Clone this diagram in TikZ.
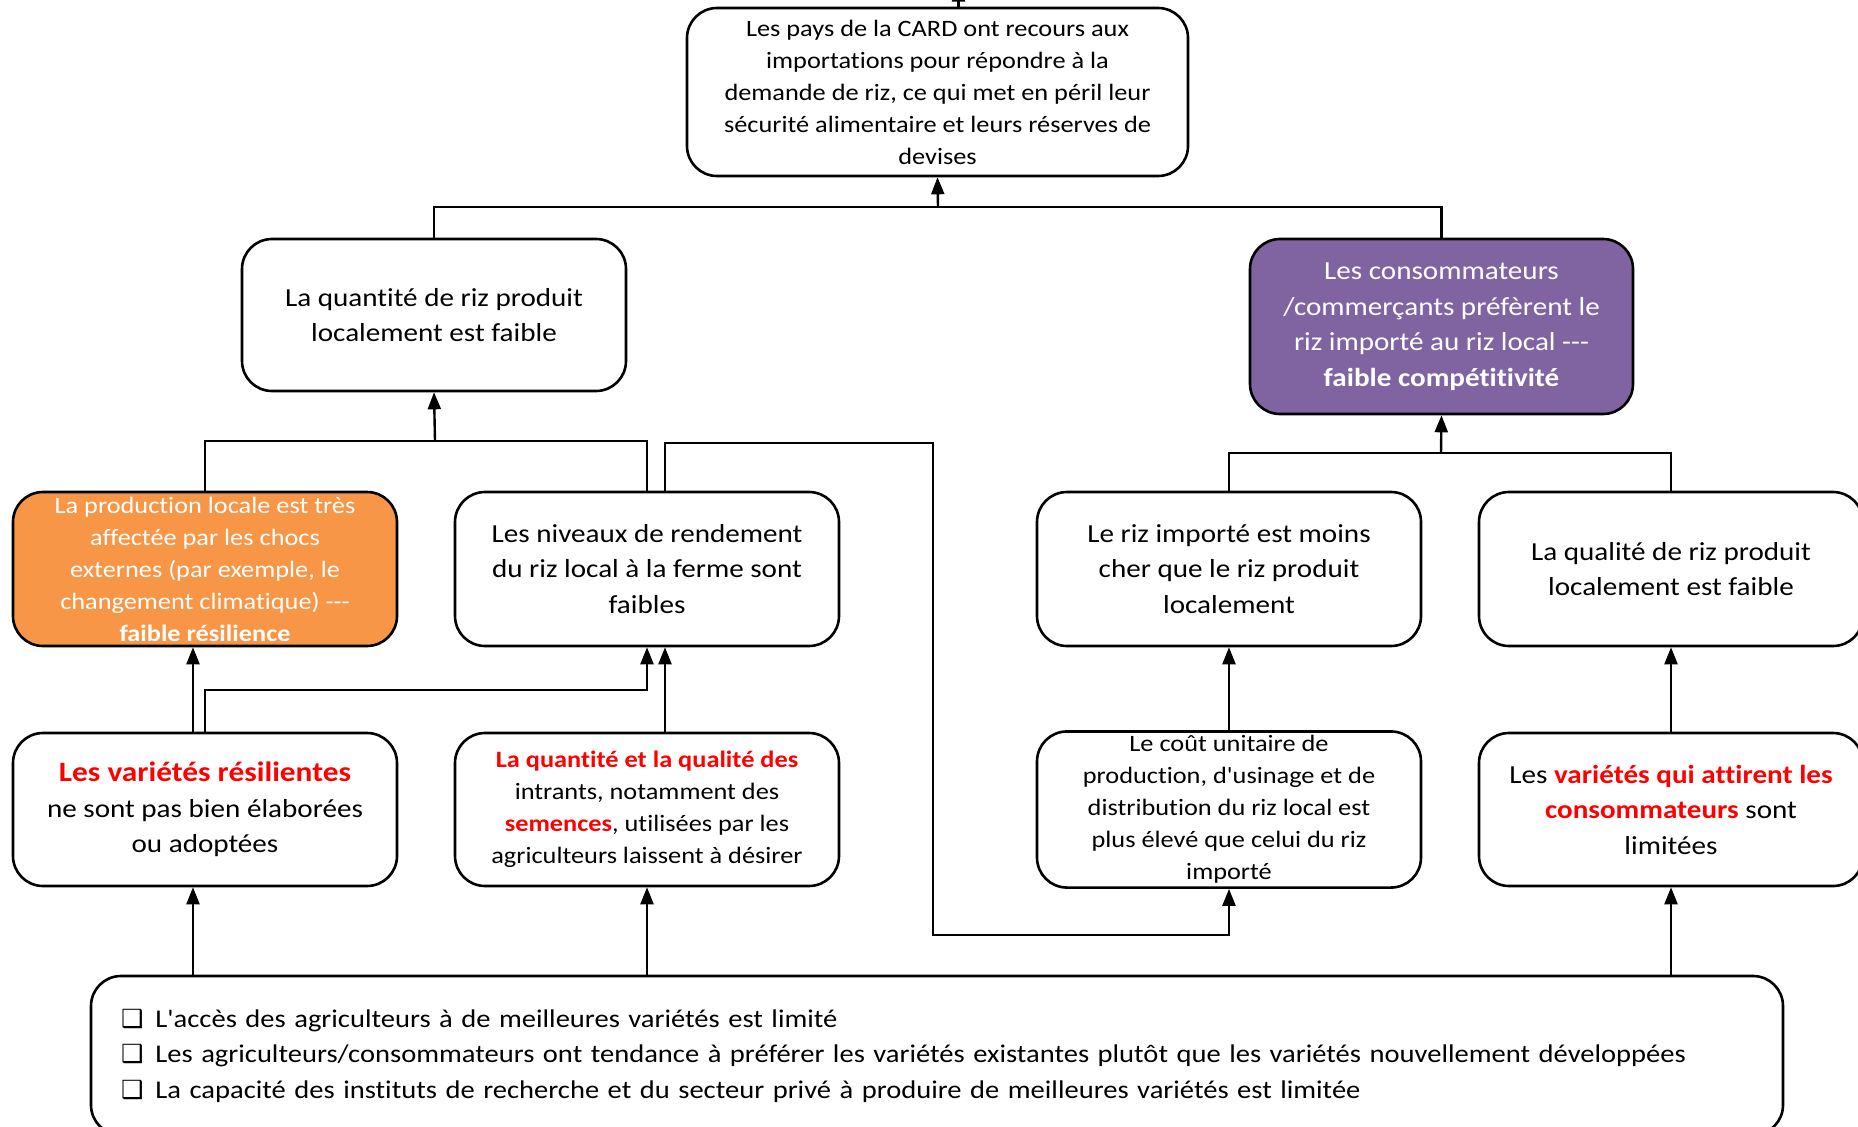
\documentclass[tikz,border=0pt]{standalone}
\usepackage{fontspec}
\setmainfont{Carlito}[Ligatures={TeXOff,CommonOff}, FakeStretch=1.12]
\newfontfamily\djv{DejaVu Sans}
\usetikzlibrary{arrows.meta}
\definecolor{orangebox}{HTML}{F79646}
\definecolor{purplebox}{HTML}{8064A2}
\definecolor{redtxt}{HTML}{FF0000}
\newcommand{\fsa}{\fontsize{23.5}{32}\selectfont}
\newcommand{\fsb}{\fontsize{26}{35.5}\selectfont}
\newcommand{\rd}[1]{\textcolor{redtxt}{\textbf{#1}}}
\newcommand{\chk}{{\djv\fontsize{25}{25}\selectfont ❑}\hspace{12pt}}
\tikzset{
  box/.style={draw=black, line width=2.6pt, rounded corners=30pt, fill=white, align=center, inner sep=4pt},
  conn/.style={draw=black, line width=2.4pt},
  arr/.style={conn, -{Triangle[length=17pt,width=13pt]}}
}
\begin{document}
\begin{tikzpicture}[x=1pt,y=-1pt]
\useasboundingbox (0,0) rectangle (1858,1127);
% nodes
\node[box, minimum width=501pt, minimum height=168pt, font=\fsa] (top) at (937.5,92) {Les pays de la CARD ont recours aux\\importations pour répondre à la\\demande de riz, ce qui met en péril leur\\sécurité alimentaire et leurs réserves de\\devises};
\node[box, minimum width=384pt, minimum height=152pt, font=\fsb] (qty) at (434,315) {La quantité de riz produit\\localement est faible};
\node[box, fill=purplebox, text=white, minimum width=383pt, minimum height=175pt, font=\fsb] (pref) at (1441.5,326.5) {Les consommateurs\\/commerçants préfèrent le\\riz importé au riz local -{}-{}-\\\textbf{faible compétitivité}};
\node[box, fill=orangebox, text=white, minimum width=384pt, minimum height=154pt, font=\fsa] (shock) at (205,569) {La production locale est très\\affectée par les chocs\\externes (par exemple, le\\changement climatique) -{}-{}-\\\textbf{faible résilience}};
\node[box, minimum width=384pt, minimum height=154pt, font=\fsb] (rend) at (647,569) {Les niveaux de rendement\\du riz local à la ferme sont\\faibles};
\node[box, minimum width=384pt, minimum height=154pt, font=\fsb] (cheap) at (1229,569) {Le riz importé est moins\\cher que le riz produit\\localement};
\node[box, minimum width=384pt, minimum height=154pt, font=\fsb] (qual) at (1671,569) {La qualité de riz produit\\localement est faible};
\node[box, minimum width=384pt, minimum height=153pt, font=\fsb] (resil) at (205,809.5) {{\fontsize{28}{35.5}\selectfont\rd{Les variétés résilientes}}\\ne sont pas bien élaborées\\ou adoptées};
\node[box, minimum width=384pt, minimum height=153pt, font=\fsa] (inputs) at (647,809.5) {\rd{La quantité et la qualité des}\\intrants, notamment des\\\rd{semences}, utilisées par les\\agriculteurs laissent à désirer};
\node[box, minimum width=384pt, minimum height=153pt, font=\fsa] (cost) at (1229,809.5) {Le coût unitaire de\\production, d'usinage et de\\distribution du riz local est\\plus élevé que celui du riz\\importé};
\node[box, minimum width=384pt, minimum height=153pt, font=\fsb] (attract) at (1671,809.5) {Les \rd{variétés qui attirent les}\\\rd{consommateurs} sont\\limitées};
\node[box, minimum width=1692pt, minimum height=159pt, font=\fontsize{25.5}{35.5}\selectfont, align=left, text width=1632pt, inner xsep=30pt] (root) at (937,1055.5) {\chk L'accès des agriculteurs à de meilleures variétés est limité\\\chk Les agriculteurs/consommateurs ont tendance à préférer les variétés existantes plutôt que les variétés nouvellement développées\\\chk La capacité des instituts de recherche et du secteur privé à produire de meilleures variétés est limitée};
% junction coordinates
\coordinate (j1) at (938,207);
\coordinate (j2) at (435,441);
\coordinate (j3) at (1441,453);
\coordinate (c1) at (933,443);
\coordinate (c2) at (933,935);
\coordinate (c3) at (647,690);
% connectors
\draw[arr] ([xshift=21pt]top.north) -- ++(0,-22);
\draw[conn] (qty.north) |- (j1) -| (pref.north);
\draw[arr] (j1) -- (top.south);
\draw[conn] (shock.north) |- (j2) -| (rend.north);
\draw[arr] (j2) -- (qty.south);
\draw[arr] ([xshift=18pt]rend.north) |- (c1) -- (c2) -| (cost.south);
\draw[conn] (cheap.north) |- (j3) -| (qual.north);
\draw[arr] (j3) -- (pref.south);
\draw[arr] (cost.north) -- (cheap.south);
\draw[arr] (attract.north) -- (qual.south);
\draw[arr] ([xshift=-12pt]resil.north) -- ([xshift=-12pt]shock.south);
\draw[arr] (resil.north) |- (c3) -- (rend.south);
\draw[arr] ([xshift=18pt]inputs.north) -- ([xshift=18pt]rend.south);
\draw[arr] ([xshift=-12pt]resil.south |- root.north) -- ([xshift=-12pt]resil.south);
\draw[arr] (inputs.south |- root.north) -- (inputs.south);
\draw[arr] (attract.south |- root.north) -- (attract.south);
\end{tikzpicture}
\end{document}
